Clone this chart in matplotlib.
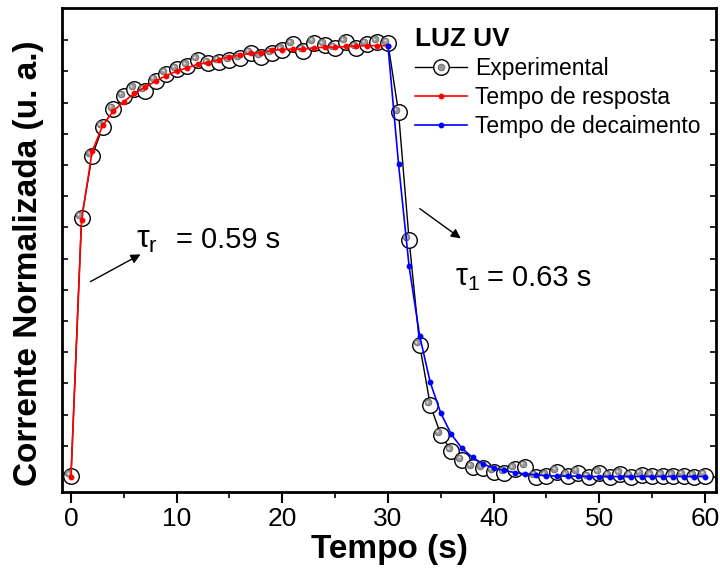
import numpy as np
import matplotlib
matplotlib.use('Agg')
import matplotlib.pyplot as plt
from matplotlib.lines import Line2D
from matplotlib.legend_handler import HandlerTuple
from matplotlib import transforms

plt.rcParams['font.family'] = ['Liberation Sans', 'DejaVu Sans']
plt.rcParams['mathtext.fontset'] = 'custom'
plt.rcParams['mathtext.rm'] = 'Liberation Sans'
plt.rcParams['mathtext.it'] = 'Liberation Sans'

# tempo (s)
tempo = np.arange(0, 61)

# corrente normalizada medida
experimental = [0.002, 0.597, 0.740, 0.806, 0.847, 0.877, 0.894, 0.890, 0.913, 0.929,
                0.939, 0.947, 0.961, 0.953, 0.957, 0.960, 0.965, 0.976, 0.968, 0.976,
                0.984, 0.997, 0.982, 1.001, 0.995, 0.988, 1.002, 0.989, 0.997, 1.002,
                0.999, 0.840, 0.546, 0.304, 0.166, 0.097, 0.060, 0.038, 0.022, 0.020,
                0.012, 0.009, 0.018, 0.024, 0.001, 0.002, 0.012, 0.002, 0.010, -0.001,
                0.009, 0.001, 0.007, 0.001, 0.005, 0.002, 0.002, 0.002, 0.003, 0.001,
                0.003]

# ajuste subida (0-30 s)
tempo_resposta = np.arange(0, 31)
ajuste_resposta = [0.0, 0.591, 0.750, 0.810, 0.843, 0.865, 0.884, 0.898, 0.912, 0.925,
                   0.935, 0.943, 0.951, 0.955, 0.962, 0.968, 0.972, 0.976, 0.978, 0.983,
                   0.985, 0.986, 0.986, 0.989, 0.990, 0.990, 0.992, 0.993, 0.994, 0.994,
                   0.994]

# ajuste decaimento (30-60 s)
tempo_decaimento = np.arange(30, 61)
ajuste_decaimento = [0.993, 0.721, 0.485, 0.325, 0.218, 0.147, 0.098, 0.066, 0.045, 0.030,
                     0.020, 0.015, 0.010, 0.007, 0.005, 0.003, 0.002, 0.002, 0.002, 0.001,
                     0.001, 0.001, 0.001, 0.001, 0.001, 0.001, 0.001, 0.001, 0.001, 0.001,
                     0.001]

fig = plt.figure(figsize=(7.2, 5.74), dpi=100)
ax = fig.add_axes([0.0861, 0.1429, 0.9083, 0.8431])

exp_line, = ax.plot(tempo, experimental, '-', color='black', lw=1.0,
                    marker='o', ms=11.2, mfc='white', mec='black', mew=1.0, zorder=2)
# bolinha cinza deslocada dentro do circulo
desloc = transforms.offset_copy(ax.transData, fig=fig, x=-2.7, y=2.7, units='dots')
ax.plot(tempo, experimental, 'o', ms=4.8, mfc='#979797', mec='#666666', mew=0.6,
        transform=desloc, zorder=3)
desloc2 = transforms.offset_copy(ax.transData, fig=fig, x=-3.4, y=3.4, units='dots')
ax.plot(tempo, experimental, 'o', ms=1.6, mfc='#e0e0e0', mec='none',
        transform=desloc2, zorder=3)

red_line, = ax.plot(tempo_resposta, ajuste_resposta, '-', color='red', lw=1.2,
                    marker='o', ms=3.2, mfc='red', mec='red', zorder=4)
blue_line, = ax.plot(tempo_decaimento, ajuste_decaimento, '-', color='blue', lw=1.2,
                     marker='o', ms=3.2, mfc='blue', mec='blue', zorder=4)

ax.set_xlim(-0.85, 61.04)
ax.set_ylim(-0.0346, 1.0806)
ax.set_xticks(np.arange(0, 61, 10))
ax.set_xticks(np.arange(5, 60, 10), minor=True)
ax.set_yticks(np.arange(0, 15) * 0.0719)
ax.set_yticklabels([])

for s in ax.spines.values():
    s.set_linewidth(2.0)
ax.tick_params(axis='x', which='major', direction='out', length=8, width=1.5,
               labelsize=19, pad=3)
ax.tick_params(axis='x', which='minor', direction='out', length=4, width=1.2)
ax.tick_params(axis='y', which='major', direction='in', length=4, width=1.2,
               left=True, right=True)

ax.set_xlabel('Tempo (s)', fontsize=24, fontweight='bold', labelpad=2)
ax.set_ylabel('Corrente Normalizada (u. a.)', fontsize=24, fontweight='bold')
ax.yaxis.set_label_coords(-0.028, 0.473)

gray_proxy = Line2D([], [], ls='none', marker='o', ms=4.8, mfc='#979797', mec='#666666', mew=0.6)
leg = ax.legend([(exp_line, gray_proxy), red_line, blue_line],
                ['Experimental', 'Tempo de resposta', 'Tempo de decaimento'],
                handler_map={tuple: HandlerTuple(ndivide=1)},
                loc='upper left', bbox_to_anchor=(0.526, 0.979), frameon=False,
                fontsize=16.5, numpoints=1, handlelength=2.27, handletextpad=0.35,
                labelspacing=0.25, borderaxespad=0.0, title='LUZ UV',
                title_fontproperties={'weight': 'bold', 'size': 18.8}, alignment='left')

ax.annotate('', xy=(6.81, 0.516), xytext=(1.61, 0.447),
            arrowprops=dict(arrowstyle='-|>', color='black', lw=1.0, mutation_scale=14))
ax.annotate('', xy=(37.1, 0.546), xytext=(32.8, 0.622),
            arrowprops=dict(arrowstyle='-|>', color='black', lw=1.0, mutation_scale=14))
ax.text(6.2, 0.546, r'$\tau_r$', fontsize=23, va='center', ha='left')
ax.text(9.93, 0.546, '= 0.59 s', fontsize=21, va='center', ha='left')
ax.text(36.3, 0.459, r'$\tau_1$', fontsize=22, va='center', ha='left')
ax.text(39.4, 0.459, '= 0.63 s', fontsize=21, va='center', ha='left')

fig.savefig('out.png', dpi=100)
